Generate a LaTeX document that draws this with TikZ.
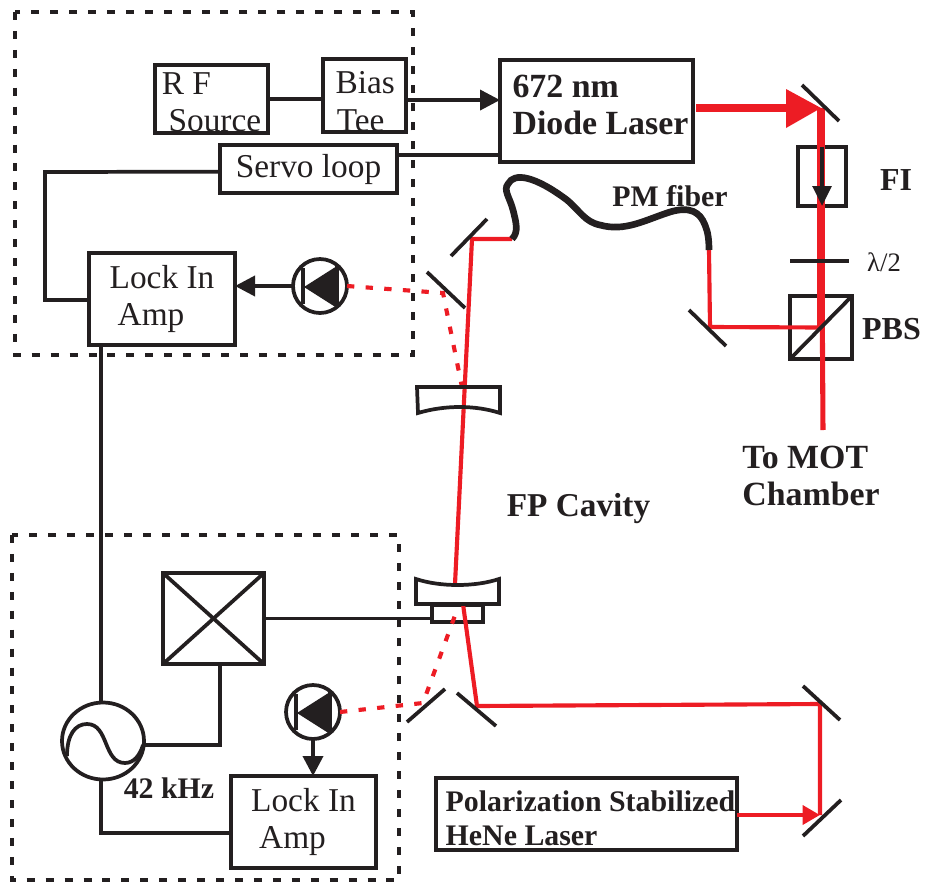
\documentclass[tikz,border=0pt]{standalone}
\usepackage{fontspec}
\setmainfont{Liberation Serif}
\usetikzlibrary{arrows.meta,shapes.geometric}
\definecolor{inkblack}{HTML}{231F20}
\definecolor{beamred}{HTML}{ED1C24}
\tikzset{
	box/.style 2 args={draw=inkblack, line width=2.8pt, inner sep=0pt, outer sep=0pt, minimum width=#1*.75pt, minimum height=#2*.75pt, text=inkblack},
	plainfont/.style={font=\fontsize{25}{28.5}\selectfont, align=left},
	boldfont/.style={font=\fontsize{25.4}{28}\selectfont\bfseries, align=left},
	smallbold/.style={font=\fontsize{22.4}{25.5}\selectfont\bfseries, align=left, text=inkblack},
	wire/.style={draw=inkblack, line width=2.8pt},
	wiretip/.style={wire, -{Triangle[length=15pt, width=15pt]}},
	mirror/.style={draw=inkblack, line width=2.8pt},
	groupbox/.style={draw=inkblack, line width=3.4pt, dash pattern=on 6pt off 8.2pt},
	beam/.style={draw=beamred, line width=3.1pt},
	beamdash/.style={draw=beamred, line width=3.1pt, dash pattern=on 5.5pt off 8.5pt},
	detector/.style={circle, draw=inkblack, line width=2.8pt, inner sep=0pt, outer sep=0pt, minimum size=54*.75pt},
}
\newcommand{\diodemark}[1]{
	\fill [inkblack] ([shift={(-16,1)}]#1.center) -- ([shift={(17,-20)}]#1.center) -- ([shift={(17,22)}]#1.center) -- cycle;
	\draw [mirror] ([shift={(-17,-18)}]#1.center) -- ([shift={(-17,18)}]#1.center);
	\draw [mirror] ([shift={(17,-20)}]#1.center) -- ([shift={(17,22)}]#1.center);
}
\begin{document}
\begin{tikzpicture}[x=.75pt, y=-.75pt]
	\useasboundingbox (0,0) rectangle (925,882);
	\draw [groupbox] (15,12) rectangle (413,355);
	\draw [groupbox] (12,535) rectangle (399,880);

	\node (rfsource) [box={113}{68}, plainfont] at (211.5,99) {\rule{0pt}{21pt}R F\\[-1pt]\hspace*{5pt}Source};
	\node (biastee) [box={83}{71}, plainfont] at (364.5,95.5) {\rule{0pt}{25.5pt}\hspace*{1pt}Bias\\\hspace*{2pt}Tee};
	\node (diode) [box={193}{102}, boldfont] at (596.5,111) {\hspace*{6pt}672 nm\\\hspace*{6pt}Diode Laser\rule[-9pt]{0pt}{9pt}};
	\node (servo) [box={177}{48}, plainfont] at (308.5,169) {Servo loop};
	\node (lockupper) [box={146}{92}, plainfont] at (162,299) {Lock In\\[-1pt]\hspace*{6pt}Amp};
	\node (lockunder) [box={145}{92}, plainfont] at (303.5,822) {Lock In\\[-1pt]\hspace*{6pt}Amp};
	\node (modulator) [box={101}{91}] at (213.5,618.5) {};
	\draw [mirror] (modulator.north west) -- (modulator.south east);
	\draw [mirror] (modulator.south west) -- (modulator.north east);
	\node (hene) [box={301}{72}, smallbold] at (586.5,814) {\rule{0pt}{22pt}\hspace*{6pt}Polarization Stabilized\\\hspace*{6pt}HeNe Laser};
	\node (pdupper) [detector] at (320,286) {};
	\node (pdunder) [detector] at (313,712) {};
	\diodemark{pdupper}
	\diodemark{pdunder}
	\node (oscillator) [draw=inkblack, line width=2.8pt, ellipse, inner sep=0pt, outer sep=0pt, minimum width=82*.75pt, minimum height=77*.75pt] at (103,741) {};
	\draw [mirror] (67,756) .. controls (67,735) and (75,724) .. (87,724) .. controls (109,724) and (103,763) .. (125,763) .. controls (134,763) and (140,755) .. (143,745);

	\node (isolator) [box={48}{59}] at (822,176.5) {};
	\node (pbs) [box={62}{63}] at (821,327.5) {};
	\node (cavityblock) [box={51}{17}] at (457.5,613.5) {};
	\coordinate (waveplateleft) at (790,261);
	\coordinate (waveplateright) at (849,261);

	\coordinate (turnright) at (821,108);
	\coordinate (motend) at (823,430);
	\coordinate (fiberout) at (709,250);
	\coordinate (fiberturn) at (710,327);
	\coordinate (fiberin) at (512,239);
	\coordinate (cavityturn) at (472,239);
	\coordinate (cavitytop) at (455,584);
	\coordinate (cavitylow) at (463,604);
	\coordinate (heneturn) at (477,706);
	\coordinate (heneup) at (820,704);
	\coordinate (henedown) at (820,815);
	\coordinate (pickupper) at (443,293);
	\coordinate (pickupperlens) at (463,392);
	\coordinate (pickunder) at (423,703);
	\coordinate (pickunderblock) at (457,610);

	\draw [beam, line width=3.8pt] (turnright) -- (motend);
	\draw [beam, line width=6pt] (turnright) -- (pbs.center);
	\draw [beam, line width=6.5pt] (diode.east |- turnright) ++(3,0) -- ++(90,0);
	\fill [beamred] (786,89) -- (821,108) -- (786,128) -- cycle;
	\draw [beam] (fiberout) -- (fiberturn) -- (pbs.center);
	\draw [beam] (fiberin) -- (cavityturn) -- (cavitytop);
	\draw [beam] (cavitylow) -- (heneturn) -- (heneup) -- (henedown);
	\draw [beam, line width=3.6pt, -{Triangle[length=13pt, width=14pt]}] (hene.east |- henedown) -- (henedown);
	\draw [beamdash] (pdupper.east) -- (pickupper) -- (pickupperlens);
	\draw [beamdash] (pdunder.east) -- (pickunder) -- (pickunderblock);

	\draw [mirror] (802,85) -- (839,121);
	\draw [mirror] (689,310) -- (726,346);
	\draw [mirror] (451,256) -- (487,219);
	\draw [mirror] (427,272) -- (465,308);
	\draw [mirror] (407,722) -- (445,689);
	\draw [mirror] (457,693) -- (496,726);
	\draw [mirror] (803,686) -- (840,720);
	\draw [mirror] (803,836) -- (841,800);
	\draw [mirror, line width=3.4pt] (waveplateleft) -- (waveplateright);
	\draw [mirror] (pbs.south west) -- (pbs.north east);

	\draw [mirror, line join=miter] (418,413) .. controls (445,405) and (475,405) .. (500,413) -- (500,387) -- (417,387) -- cycle;
	\draw [mirror, line join=miter] (416,579) .. controls (440,587) and (475,587) .. (499,579) -- (499,604) -- (416,604) -- cycle;

	\draw [line width=5pt, draw=inkblack] (fiberin) .. controls (519,232) and (516,222) .. (513,210) .. controls (510,198) and (503,190) .. (508,184) .. controls (514,172) and (535,176) .. (567,200) .. controls (580,211) and (585,222) .. (600,225) .. controls (625,232) and (645,220) .. (670,212) .. controls (690,206) and (700,212) .. (705,225) .. controls (708,232) and (709,240) .. (fiberout);

	\draw [wire] (rfsource.east) -- (rfsource.east -| biastee.west);
	\draw [wiretip] ([yshift=-3.4pt]biastee.east) -- ([yshift=-3.4pt]biastee.east -| diode.west);
	\draw [wire] (servo.east |- 0,155) -- (diode.west |- 0,155);
	\draw [wire] ([yshift=-2pt]servo.west) -- (45,172) -- (45,300) -- (lockupper.west |- 0,300);
	\draw [wiretip] (pdupper.west) -- (lockupper.east |- pdupper.west);
	\draw [wire] ([xshift=-1.5pt]lockupper.south -| oscillator.north) -- ([xshift=-1.5pt]oscillator.north);
	\draw [wire] ([yshift=-3pt]oscillator.east) -- (220,745) -- (modulator.south -| 220,0);
	\draw [wire] ([xshift=-1.5pt]oscillator.south) -- (101,833) -- (lockunder.west |- 0,833);
	\draw [wiretip] (pdunder.south) -- (pdunder.south |- lockunder.north);
	\draw [wire] (modulator.east) -- (cavityblock.west |- modulator.east);
	\draw [wire, -{Triangle[length=15pt, width=14pt]}] (isolator.north) -- (isolator.south);

	\node (fiberlabel) [smallbold] at (670,196) {PM fiber};
	\node (fplabel) [boldfont, font=\fontsize{25}{28}\selectfont\bfseries, text=inkblack] at (578.5,509) {FP Cavity};
	\node (motlabel) [boldfont, text=inkblack] at (811,476) {To MOT\\Chamber};
	\node (filabel) [boldfont, font=\fontsize{24}{28}\selectfont\bfseries, text=inkblack] at (896,180) {FI};
	\node (pbslabel) [boldfont, font=\fontsize{24}{28}\selectfont\bfseries, text=inkblack] at (891.5,329) {PBS};
	\node (waveplatelabel) [font=\fontsize{20}{20}\selectfont, text=inkblack] at (884,262) {λ/2};
	\node (freqlabel) [smallbold] at (169,788) {42 kHz};
\end{tikzpicture}
\end{document}
